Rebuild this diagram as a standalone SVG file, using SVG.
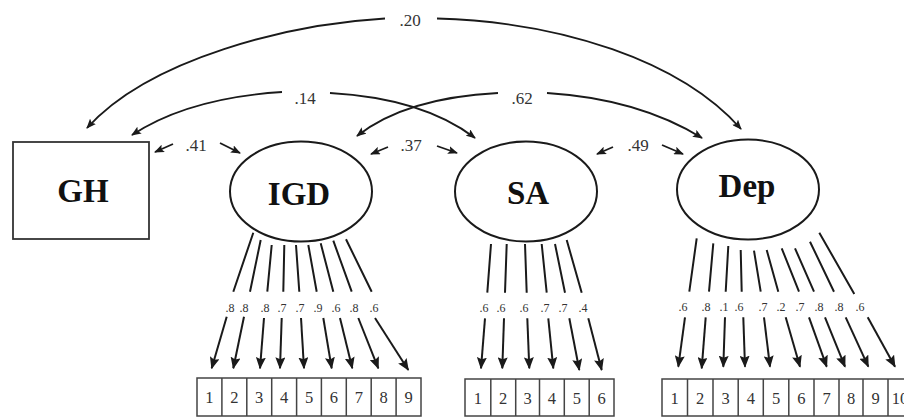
<svg xmlns="http://www.w3.org/2000/svg" width="904" height="418" viewBox="0 0 904 418">
<defs>
<marker id="ah" markerUnits="userSpaceOnUse" markerWidth="12" markerHeight="10" refX="11" refY="5" orient="auto">
<path d="M0,0 L12,5 L0,10 L2,5 z" fill="#1a1a1a"/>
</marker>
<marker id="ahs" markerUnits="userSpaceOnUse" markerWidth="10" markerHeight="8" refX="9" refY="4" orient="auto">
<path d="M0,0 L10,4 L0,8 L2,4 z" fill="#1a1a1a"/>
</marker>
<style>
.node{fill:#fff;stroke:#1a1a1a;stroke-width:2}
.box{fill:#fff;stroke:#444;stroke-width:1.5}
.nt{font-family:"Liberation Serif","Times New Roman",serif;font-weight:bold;font-size:33px;fill:#111;text-anchor:middle}
.lb{font-family:"Liberation Serif","Times New Roman",serif;font-size:17px;fill:#333;text-anchor:middle}
.ll{font-family:"Liberation Serif","Times New Roman",serif;font-size:12px;fill:#333;text-anchor:middle}
.bn{font-family:"Liberation Serif","Times New Roman",serif;font-size:16.5px;fill:#333;text-anchor:middle}
.cv{fill:none;stroke:#1a1a1a;stroke-width:1.8;marker-end:url(#ahs)}
.sh{fill:none;stroke:#1a1a1a;stroke-width:1.8;marker-end:url(#ahs)}
.ln{stroke:#1a1a1a;stroke-width:2}
.la{stroke:#1a1a1a;stroke-width:2;marker-end:url(#ah)}
</style>
</defs>

<g id="GH"><rect class="box" x="13" y="142" width="136" height="97" style="stroke:#333;stroke-width:1.8"/><text class="nt" x="83" y="202">GH</text></g>
<g id="IGD"><ellipse class="node" cx="301" cy="191.5" rx="71" ry="50"/><text class="nt" x="299" y="205">IGD</text></g>
<g id="SA"><ellipse class="node" cx="526" cy="191.5" rx="71" ry="50"/><text class="nt" x="528" y="204">SA</text></g>
<g id="Dep"><ellipse class="node" cx="748" cy="189.5" rx="71" ry="50"/><text class="nt" x="747" y="197">Dep</text></g>

<g id="IGD-items">
<rect class="box" x="197" y="378" width="224" height="38"/>
<path class="box" d="M221.9,378V416M246.8,378V416M271.7,378V416M296.6,378V416M321.4,378V416M346.3,378V416M371.2,378V416M396.1,378V416"/>
<text class="bn" x="209.4" y="403">1</text><text class="bn" x="234.3" y="403">2</text><text class="bn" x="259.2" y="403">3</text><text class="bn" x="284.1" y="403">4</text><text class="bn" x="309" y="403">5</text><text class="bn" x="333.9" y="403">6</text><text class="bn" x="358.8" y="403">7</text><text class="bn" x="383.7" y="403">8</text><text class="bn" x="408.6" y="403">9</text>
</g>
<g id="SA-items">
<rect class="box" x="465" y="379" width="149" height="37"/>
<path class="box" d="M490.8,379V416M515.7,379V416M539.5,379V416M564.3,379V416M589.2,379V416"/>
<text class="bn" x="477.9" y="404">1</text><text class="bn" x="503.2" y="404">2</text><text class="bn" x="527.6" y="404">3</text><text class="bn" x="551.9" y="404">4</text><text class="bn" x="576.8" y="404">5</text><text class="bn" x="601.6" y="404">6</text>
</g>
<g id="Dep-items">
<rect class="box" x="662" y="379" width="251" height="37"/>
<path class="box" d="M687.5,379V416M713,379V416M738.2,379V416M763.3,379V416M788.8,379V416M814,379V416M839,379V416M863,379V416M888,379V416"/>
<text class="bn" x="674.7" y="404">1</text><text class="bn" x="700.2" y="404">2</text><text class="bn" x="725.6" y="404">3</text><text class="bn" x="750.8" y="404">4</text><text class="bn" x="776" y="404">5</text><text class="bn" x="801.4" y="404">6</text><text class="bn" x="826.5" y="404">7</text><text class="bn" x="851" y="404">8</text><text class="bn" x="875.5" y="404">9</text><text class="bn" x="900" y="404">10</text>
</g>

<g id="connectors">
<!-- covariance arcs -->
<path class="cv" d="M385,18.5 C290,24 150,58 87,128"/>
<path class="cv" d="M437,18.5 C560,22 680,60 741,129"/>
<path class="cv" d="M282,92 C220,96 170,110 132,135"/>
<path class="cv" d="M330,93 C400,97 445,115 475,138"/>
<path class="cv" d="M498,93 C440,96 390,110 357,136"/>
<path class="cv" d="M547,93 C610,97 660,112 702,138"/>
<text class="lb" x="410" y="26">.20</text>
<text class="lb" x="305" y="104">.14</text>
<text class="lb" x="522" y="104">.62</text>
<!-- short correlations -->
<path class="sh" d="M173,144 L155,152"/>
<path class="sh" d="M220,143 L240,153"/>
<path class="sh" d="M388,147 L371,154"/>
<path class="sh" d="M437,146 L457,153"/>
<path class="sh" d="M613,147 L597,154"/>
<path class="sh" d="M662,145 L683,154"/>
<text class="lb" x="196" y="151">.41</text>
<text class="lb" x="411" y="151">.37</text>
<text class="lb" x="638" y="151">.49</text>

<!-- IGD loadings -->
<path class="ln" d="M253.3,232.7L233.3,291.7M260.7,240L250,291.7M271.7,245L267.3,291.7M284.3,245L283.3,291.7M296,245L299.3,291.7M308.3,245L316.7,291.7M320.7,243.3L333.3,291.7M333.3,240.7L351.7,291.7M346,239.3L371.7,291.7"/>
<line class="la" x1="226.7" y1="316.7" x2="211.7" y2="368.3"/>
<line class="la" x1="244" y1="316.7" x2="233.3" y2="368.3"/>
<line class="la" x1="264" y1="318" x2="260" y2="368.3"/>
<line class="la" x1="281.7" y1="318" x2="280" y2="368.3"/>
<line class="la" x1="301" y1="318" x2="304" y2="368.3"/>
<line class="la" x1="323.3" y1="318" x2="331.7" y2="368.3"/>
<line class="la" x1="340" y1="318" x2="352.3" y2="368.3"/>
<line class="la" x1="358.3" y1="318" x2="378.3" y2="368.3"/>
<line class="la" x1="375" y1="318" x2="408.3" y2="370"/>
<text class="ll" x="230" y="312">.8</text><text class="ll" x="244" y="312">.8</text><text class="ll" x="265" y="312">.8</text><text class="ll" x="282" y="312">.7</text><text class="ll" x="300" y="312">.7</text><text class="ll" x="318" y="312">.9</text><text class="ll" x="336" y="312">.6</text><text class="ll" x="354" y="312">.8</text><text class="ll" x="374" y="312">.6</text>

<!-- SA loadings -->
<path class="ln" d="M491,244L487.3,292.7M506.7,244L505,292.7M525,244L526.7,292.7M541.7,244L546.7,292.7M555,244L565,292.7M566.7,240L581.7,292.7"/>
<line class="la" x1="485" y1="318.3" x2="481" y2="368.3"/>
<line class="la" x1="504" y1="318.3" x2="502.3" y2="368.3"/>
<line class="la" x1="527.3" y1="318.3" x2="529.3" y2="368.3"/>
<line class="la" x1="548.3" y1="318.3" x2="553.3" y2="368.3"/>
<line class="la" x1="569.3" y1="318.3" x2="579.3" y2="370"/>
<line class="la" x1="588.3" y1="318.3" x2="601.7" y2="370"/>
<text class="ll" x="484" y="312">.6</text><text class="ll" x="501" y="312">.6</text><text class="ll" x="524" y="312">.6</text><text class="ll" x="545" y="312">.7</text><text class="ll" x="563" y="312">.7</text><text class="ll" x="583" y="312">.4</text>

<!-- Dep loadings -->
<path class="ln" d="M696.7,238.3L689.3,291.7M713.3,243.3L709,291.7M728.3,246L725.7,291.7M740.7,250L741.7,291.7M754,250.7L760.7,291.7M766.7,250L778.3,291.7M781.7,248.3L799,291.7M795,248.3L814,291.7M810,241.7L834,291.7M819.3,232.7L854.3,294"/>
<line class="la" x1="685" y1="317.3" x2="678.3" y2="366.7"/>
<line class="la" x1="705.7" y1="317.3" x2="701.7" y2="368.3"/>
<line class="la" x1="725" y1="317.3" x2="723.3" y2="366.7"/>
<line class="la" x1="743.3" y1="317.3" x2="745" y2="366.7"/>
<line class="la" x1="764" y1="317.3" x2="770" y2="366.7"/>
<line class="la" x1="785.7" y1="317.3" x2="800" y2="366.7"/>
<line class="la" x1="809" y1="317.3" x2="826.7" y2="366.7"/>
<line class="la" x1="825" y1="317.3" x2="845" y2="366.7"/>
<line class="la" x1="845.7" y1="317.3" x2="868.3" y2="366.7"/>
<line class="la" x1="867.7" y1="317.3" x2="895" y2="366.7"/>
<text class="ll" x="683" y="311">.6</text><text class="ll" x="706" y="311">.8</text><text class="ll" x="724" y="311">.1</text><text class="ll" x="739" y="311">.6</text><text class="ll" x="763" y="311">.7</text><text class="ll" x="781" y="311">.2</text><text class="ll" x="800" y="311">.7</text><text class="ll" x="819" y="311">.8</text><text class="ll" x="839" y="311">.8</text><text class="ll" x="860" y="311">.6</text>
</g>
</svg>
